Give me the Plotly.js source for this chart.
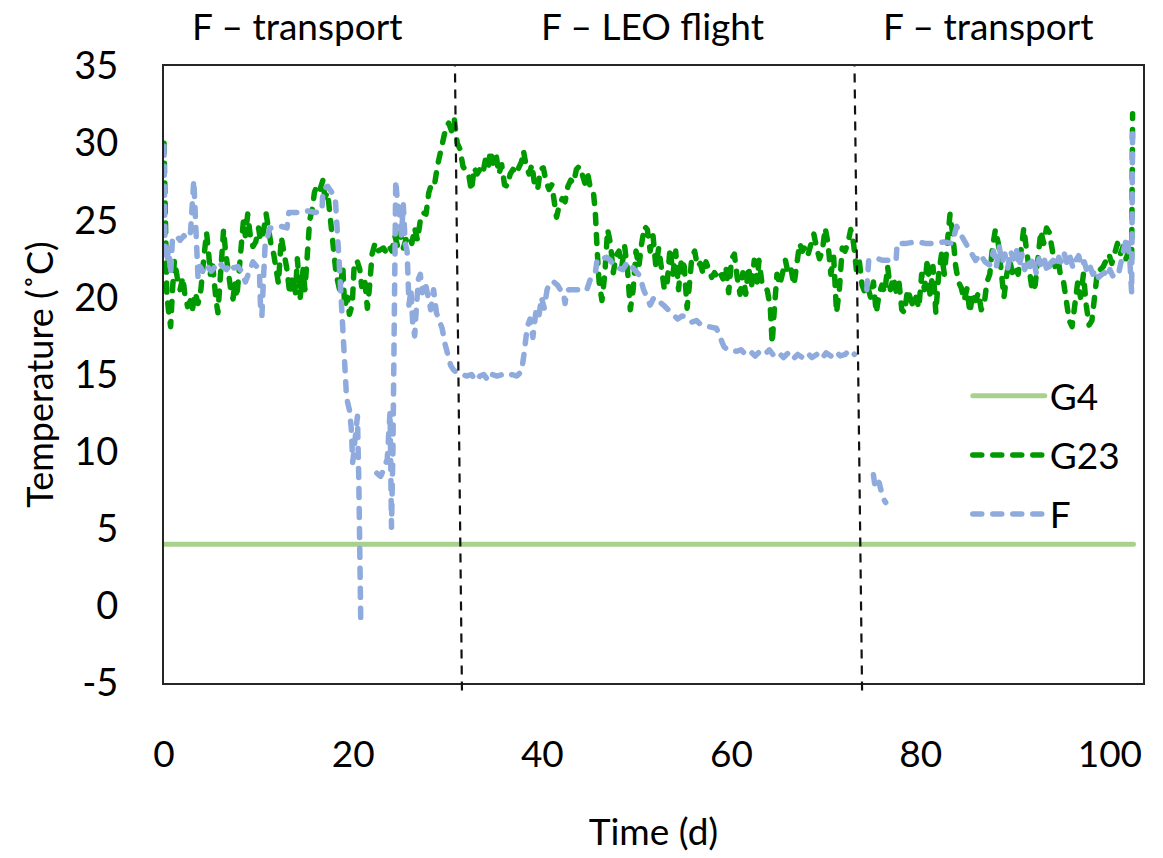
<!DOCTYPE html>
<html>
<head>
<meta charset="utf-8">
<script src="https://cdn.plot.ly/plotly-3.0.1.min.js"></script>
<style>
  html, body { margin: 0; padding: 0; background: #ffffff; }
  #chart { width: 1163px; height: 858px; }
  #chart .scatterlayer .js-line, #chart .legendlines path { stroke-linecap: round; stroke-linejoin: round; }
</style>
</head>
<body>
<div id="chart"></div>
<script>
// ---------- data ----------
const g4Days = [0, 102.5];
const g4Temp = [4, 4];

const g23Days = [
  0.0,0.05,0.1,0.15,0.2,0.3,0.5,0.7,0.9,1.1,1.4,1.7,2.0,2.2,2.5,2.8,3.0,3.3,3.6,3.9,
  4.2,4.5,4.7,4.9,5.1,5.3,5.5,5.7,5.9,6.1,6.3,6.5,6.7,6.9,7.1,7.3,7.5,7.7,7.9,8.1,
  8.4,8.6,8.85,9.1,9.4,9.7,10.0,10.2,10.5,10.8,11.0,11.3,11.6,11.9,12.1,12.4,12.7,13.0,13.3,13.6,
  13.9,14.1,14.4,14.7,14.9,15.1,15.4,15.7,15.9,16.2,16.5,16.8,17.0,17.3,17.5,17.7,17.9,18.2,18.6,18.9,
  19.1,19.4,19.6,19.9,20.1,20.4,20.7,20.9,21.2,21.5,21.7,22.0,22.3,22.6,22.9,23.2,23.5,23.8,24.1,24.4,
  24.7,25.0,25.3,25.6,25.9,26.2,26.5,26.8,27.1,27.4,27.7,28.0,28.3,28.6,28.9,29.2,29.5,29.8,30.1,30.4,
  30.7,31.0,31.3,31.6,31.9,32.2,32.5,32.8,33.1,33.4,33.7,34.0,34.3,34.5,34.8,35.1,35.4,35.7,36.0,36.3,
  36.6,36.9,37.2,37.5,37.8,38.0,38.3,38.6,38.9,39.2,39.5,39.8,40.1,40.4,40.7,41.0,41.3,41.5,41.8,42.1,
  42.4,42.7,43.0,43.3,43.6,43.9,44.2,44.5,44.8,45.1,45.4,45.6,45.8,46.0,46.3,46.6,46.9,47.2,47.5,47.8,
  48.1,48.4,48.7,49.0,49.3,49.6,49.9,50.2,50.5,50.8,51.1,51.4,51.7,52.0,52.3,52.6,52.9,53.2,53.5,53.8,
  54.1,54.4,54.7,55.0,55.3,55.5,55.8,56.1,56.4,56.7,57.0,57.3,57.6,57.9,58.2,58.5,58.8,59.1,59.4,59.7,
  60.0,60.3,60.6,60.9,61.2,61.5,61.8,62.1,62.4,62.7,62.9,63.2,63.5,63.8,64.1,64.3,64.5,64.8,65.1,65.4,
  65.7,66.0,66.3,66.6,66.9,67.2,67.5,67.8,68.1,68.4,68.7,69.0,69.3,69.6,69.9,70.2,70.5,70.8,71.1,71.4,
  71.7,72.0,72.3,72.6,72.9,73.2,73.5,73.8,74.1,74.4,74.7,75.0,75.3,75.6,75.9,76.2,76.5,76.8,77.1,77.4,
  77.7,78.0,78.3,78.6,78.9,79.2,79.5,79.8,80.1,80.4,80.7,81.0,81.3,81.6,81.9,82.2,82.5,82.8,83.1,83.4,
  83.7,84.0,84.3,84.6,84.9,85.2,85.5,85.8,86.1,86.4,86.7,87.0,87.3,87.6,87.9,88.2,88.5,88.8,89.1,89.4,
  89.7,90.0,90.3,90.6,90.9,91.2,91.5,91.8,92.1,92.4,92.7,93.0,93.3,93.6,93.9,94.2,94.5,94.8,95.1,95.4,
  95.7,96.0,96.3,96.6,96.9,97.2,97.5,97.8,98.1,98.4,98.7,99.0,99.3,99.6,99.9,100.2,100.5,100.8,101.1,101.4,
  101.7,102.0,102.3,102.4
];
const g23Temp = [
  30.0,27.0,25.0,21.5,23.0,20.2,19.0,18.1,20.5,22.4,21.3,20.5,21.3,20.2,19.4,19.8,19.2,20.3,19.6,20.5,
  22.5,24.2,23.0,21.5,22.4,20.7,19.8,19.0,20.5,23.0,24.4,23.0,22.0,21.2,20.3,19.9,21.0,20.0,21.5,23.5,
  25.0,24.0,25.4,24.1,23.3,23.6,24.5,23.7,24.2,25.4,24.5,23.5,22.8,21.5,20.9,23.9,23.0,21.8,20.2,21.3,
  20.3,22.5,20.0,21.8,20.5,22.0,25.0,25.8,26.8,27.3,27.0,27.6,26.5,26.8,25.5,24.3,22.8,21.5,20.4,22.0,
  19.4,20.0,18.9,19.5,22.0,22.4,21.8,20.7,21.3,19.3,20.5,22.8,23.5,23.0,23.1,23.2,22.9,23.3,23.0,24.0,
  23.3,24.2,23.2,23.8,24.0,23.5,24.5,23.7,25.0,25.5,25.4,26.8,27.4,27.3,28.5,29.3,30.2,31.0,31.3,30.8,
  31.5,30.0,29.6,28.5,28.2,28.0,26.9,28.4,28.0,28.3,28.0,29.0,28.5,29.5,28.7,29.3,28.0,28.6,27.3,27.2,
  28.0,28.3,28.0,28.4,28.8,29.5,28.5,28.0,28.6,27.2,27.0,28.3,28.4,27.5,27.0,27.3,25.7,25.2,26.0,26.4,
  26.2,27.2,27.6,27.4,28.3,28.5,28.0,27.4,28.0,27.0,26.8,25.5,23.0,21.0,19.8,21.5,24.4,23.5,21.6,22.7,
  23.0,22.0,23.3,21.8,19.2,20.5,23.0,22.0,23.5,24.6,24.4,23.0,24.0,22.0,23.2,21.5,20.5,21.0,23.2,21.5,
  23.0,20.5,22.5,22.0,19.3,20.5,22.6,23.0,22.0,22.2,21.5,22.3,21.9,21.3,21.6,21.3,21.6,21.2,22.0,20.3,
  22.5,22.8,21.3,20.2,21.6,20.2,22.0,20.6,22.4,21.0,22.4,21.0,20.9,20.4,19.3,17.0,19.0,21.5,20.8,21.8,
  22.4,21.5,21.8,20.8,22.0,23.5,23.0,23.3,22.8,23.5,24.1,23.2,22.5,23.0,24.5,23.5,21.5,22.6,19.0,20.5,
  23.2,23.0,23.5,24.4,23.5,21.8,22.4,20.8,20.3,20.7,20.0,21.0,19.0,20.2,20.8,20.3,22.0,20.5,21.3,20.4,
  21.0,19.2,19.0,20.5,20.0,19.4,20.0,19.3,21.5,20.5,22.5,20.0,22.0,19.0,21.5,22.8,21.5,23.5,25.4,24.0,
  22.0,21.0,20.6,19.8,20.6,19.0,20.3,19.8,20.3,19.2,19.5,21.0,21.5,23.3,24.4,23.5,21.8,20.0,21.5,22.4,
  21.6,22.0,21.5,23.2,24.5,23.0,21.8,20.4,20.8,22.5,24.3,23.5,24.5,24.2,23.0,22.0,22.6,21.3,21.0,19.8,
  18.5,18.1,19.5,21.0,20.0,21.5,19.5,18.2,18.5,20.3,21.8,21.8,22.0,22.4,22.8,22.2,23.0,23.5,22.8,23.3,
  22.5,23.0,22.4,31.9
];

const fDays = [
  0.0,0.05,0.1,0.3,0.5,0.7,0.9,1.3,1.7,2.1,2.5,2.8,3.0,3.15,3.3,3.4,3.5,3.6,3.8,4.2,
  4.6,5.0,5.4,5.8,6.2,6.6,7.0,7.4,7.8,8.2,8.6,9.0,9.4,9.8,10.1,10.2,10.35,10.5,10.7,10.9,
  11.2,11.8,12.4,13.0,13.2,13.8,14.5,15.2,16.0,16.7,16.8,17.3,17.8,18.1,18.5,18.8,19.1,19.3,19.6,19.8,
  19.95,20.2,20.45,20.6,20.7,20.75,20.8,null,
  22.5,22.9,23.2,23.6,23.9,24.05,24.2,24.35,24.5,24.7,24.9,25.1,25.3,25.5,25.7,25.9,26.1,26.3,26.5,26.7,
  26.9,27.1,27.3,27.6,27.9,28.2,28.5,28.8,29.1,29.4,29.7,30.0,30.3,30.6,31.0,31.5,32.0,32.5,33.0,33.4,
  33.8,34.3,34.7,35.2,35.8,36.3,36.8,37.3,37.8,38.1,38.4,38.7,39.0,39.3,39.6,39.9,40.2,40.5,40.8,41.2,
  41.6,41.9,42.2,42.4,42.6,42.8,43.3,43.8,44.3,44.7,45.2,45.6,45.8,46.3,46.8,47.2,47.6,48.0,48.5,49.0,
  49.5,50.0,50.3,50.7,51.0,51.4,51.8,52.3,52.8,53.3,53.8,54.3,54.8,55.3,55.8,56.3,56.8,57.4,57.9,58.4,
  58.8,59.2,59.6,60.0,60.5,61.0,61.5,62.0,62.5,63.0,63.5,64.0,64.5,65.0,65.5,66.0,66.5,67.0,67.5,68.0,
  68.5,69.0,69.5,70.0,70.5,71.0,71.5,72.0,72.5,73.0,null,
  74.3,74.5,75.0,75.5,76.0,76.5,77.0,77.4,77.5,78.5,79.5,80.5,81.5,82.5,83.3,83.8,84.3,84.8,85.3,85.8,
  86.3,86.8,87.3,87.7,88.0,88.3,88.6,88.9,89.2,89.5,89.8,90.1,90.4,90.7,91.0,91.3,91.6,91.9,92.2,92.5,
  92.8,93.1,93.4,93.7,94.0,94.3,94.6,94.9,95.2,95.5,95.8,96.1,96.4,96.7,97.0,97.3,97.6,97.9,98.2,98.5,
  98.8,99.1,99.4,99.7,100.0,100.3,100.6,100.9,101.2,101.5,101.8,102.1,102.3,102.4,null,
  75.0,75.2,75.6,76.0,76.3
];
const fTemp = [
  29.8,26.0,23.5,22.3,23.2,21.5,23.8,24.0,23.7,24.0,23.8,24.2,26.0,27.6,25.5,24.0,22.5,21.2,22.0,21.6,
  22.0,21.7,22.0,22.3,22.0,21.8,22.2,21.9,22.0,21.7,21.0,21.8,22.3,22.0,21.5,19.5,18.8,21.0,23.5,23.8,
  24.5,24.5,24.6,24.5,25.5,25.5,25.5,25.6,25.5,25.6,27.0,27.2,26.8,26.5,22.5,19.4,15.5,13.5,12.7,11.5,
  9.3,10.8,12.3,8.0,3.0,0.5,-1.0,null,
  8.6,8.4,8.8,9.5,12.6,5.1,10.0,20.0,27.6,26.0,25.5,24.0,26.0,23.5,23.0,19.5,20.5,18.3,17.5,19.5,
  21.2,21.5,20.3,21.0,20.0,19.2,20.5,19.0,18.5,18.0,17.0,16.2,15.6,15.3,15.1,15.0,14.9,15.0,14.6,14.9,
  15.0,14.6,15.0,14.9,15.0,14.9,15.0,14.9,15.2,16.5,18.1,18.6,17.4,19.0,18.6,20.0,19.3,20.5,21.0,21.0,
  20.8,20.5,20.4,19.6,20.4,20.5,20.5,20.5,20.6,20.5,21.4,21.6,22.5,22.5,22.6,22.4,22.0,21.9,21.8,22.3,
  22.0,21.6,21.4,20.5,20.0,19.5,20.0,19.8,19.5,19.2,18.9,18.6,18.8,18.7,18.4,18.5,18.2,18.1,18.1,18.0,
  17.4,16.8,16.6,16.6,16.5,16.6,16.3,16.5,16.2,16.5,16.3,16.6,16.2,16.4,16.1,16.4,16.0,16.3,16.1,16.4,
  16.1,16.3,16.0,16.4,16.2,16.5,16.2,16.3,16.6,16.3,null,
  20.5,22.4,22.4,22.5,22.4,22.4,22.5,22.4,23.5,23.5,23.6,23.5,23.5,23.6,23.5,24.6,24.0,23.5,23.0,22.4,
  22.8,22.3,22.1,23.0,22.0,23.3,22.2,22.8,21.9,23.0,22.5,23.2,22.0,22.8,21.8,22.5,22.0,22.6,21.6,22.5,
  21.9,22.4,21.6,22.2,22.4,22.0,22.6,22.2,22.8,22.1,22.6,21.9,22.4,22.7,22.0,22.3,21.6,22.0,21.5,21.8,
  21.3,21.5,21.6,21.3,21.8,21.4,21.6,21.5,22.5,23.2,23.9,22.5,20.3,31.0,null,
  8.5,7.6,8.0,7.0,6.7
];

const seriesNames = ['G4', 'G23', 'F'];
const phaseLabels = ['F \u2013 transport', 'F \u2013 LEO flight', 'F \u2013 transport'];
const phaseCenters = [14.1, 51.6, 87.1];
const phaseBoundaryTop = [30.76, 73.0];
const phaseBoundaryBottom = [31.5, 73.8];
const xTickVals = [0, 20, 40, 60, 80, 100];
const yTickVals = [-5, 0, 5, 10, 15, 20, 25, 30, 35];
const yTickText = ['-5', '0', '5', '10', '15', '20', '25', '30', '35'];

// ---------- chart ----------
const FONT = 'Lato, "Open Sans", sans-serif';
const traces = [
  { x: g4Days, y: g4Temp, name: seriesNames[0], legendgroup: 'a', type: 'scatter', mode: 'lines',
    line: { color: '#A9D18E', width: 5 } },
  { x: g23Days, y: g23Temp, name: seriesNames[1], legendgroup: 'b', type: 'scatter', mode: 'lines',
    line: { color: '#009A00', width: 5.5, dash: '9px,11px' } },
  { x: fDays, y: fTemp, name: seriesNames[2], legendgroup: 'c', type: 'scatter', mode: 'lines',
    connectgaps: false, line: { color: '#8FAADC', width: 5.5, dash: '9px,11px' } }
];

const shapes = phaseBoundaryTop.map((x0, i) => ({
  type: 'line', xref: 'x', yref: 'paper', x0: phaseBoundaryBottom[i], x1: x0, y0: -0.012, y1: 1.0,
  line: { color: '#111111', width: 2.2, dash: '9px,7px' }, layer: 'above'
}));

const annotations = phaseLabels.map((t, i) => ({
  text: t, xref: 'x', yref: 'paper', x: phaseCenters[i], y: 1.066,
  xanchor: 'center', yanchor: 'middle', showarrow: false,
  font: { family: FONT, size: 37, color: '#000000' }
}));

const layout = {
  width: 1163, height: 858,
  paper_bgcolor: '#ffffff', plot_bgcolor: '#ffffff',
  margin: { l: 164, r: 20, t: 66, b: 175, pad: 0 },
  font: { family: FONT, color: '#000000' },
  showlegend: true,
  legend: {
    x: 0.821, y: 0.515, xanchor: 'left', yanchor: 'top',
    bgcolor: 'rgba(255,255,255,0)', borderwidth: 0,
    font: { family: FONT, size: 37, color: '#000000' },
    traceorder: 'grouped', tracegroupgap: 8, itemwidth: 72
  },
  xaxis: {
    range: [0, 103.5], tickvals: xTickVals, showgrid: false, zeroline: false,
    showline: true, mirror: true, linecolor: '#262626', linewidth: 2,
    ticks: '', ticklabelstandoff: 38,
    tickfont: { family: FONT, size: 37, color: '#000000' },
    title: { text: 'Time (d)', standoff: 45, font: { family: FONT, size: 37, color: '#000000' } }
  },
  yaxis: {
    range: [-5, 35], tickvals: yTickVals, ticktext: yTickText, showgrid: false, zeroline: false,
    showline: true, mirror: true, linecolor: '#262626', linewidth: 2,
    ticks: '', ticklabelstandoff: 36,
    tickfont: { family: FONT, size: 38, color: '#000000' },
    title: { text: 'Temperature (\u02DAC)', standoff: 10, font: { family: FONT, size: 36, color: '#000000' } }
  },
  shapes: shapes,
  annotations: annotations
};

Plotly.newPlot('chart', traces, layout, { displayModeBar: false, staticPlot: true });
</script>
</body>
</html>
